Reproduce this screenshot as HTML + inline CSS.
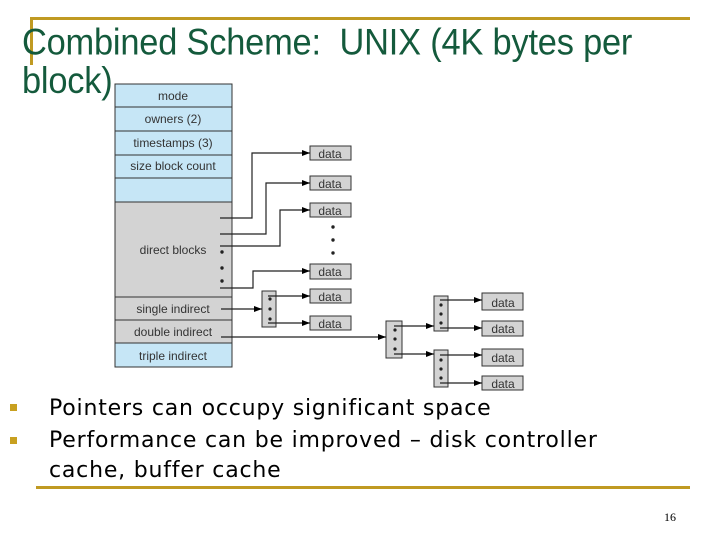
<!DOCTYPE html>
<html><head><meta charset="utf-8"><style>
body{margin:0;width:720px;height:540px;background:#fff;overflow:hidden;position:relative;font-family:"Liberation Sans",sans-serif}
.t{position:absolute;left:22px;color:#145a3c;font-size:34.4px;line-height:36px;top:23px;letter-spacing:-0.2px;transform:scaleY(1.08);transform-origin:0 0}
.b{position:absolute;left:49px;font-size:22px;line-height:31px;color:#000;font-family:"DejaVu Sans",sans-serif;letter-spacing:0.8px}
.sq{position:absolute;left:10px;width:7px;height:7px;background:#c8a020}
</style></head><body>
<div style="position:absolute;left:30px;top:17px;width:660px;height:3px;background:#c09a22"></div>
<div style="position:absolute;left:30px;top:17px;width:3px;height:48px;background:#c09a22"></div>
<div class="t">Combined Scheme:&nbsp; UNIX (4K bytes per<br>block)</div>
<svg style="position:absolute;left:0;top:0" width="720" height="540" font-family="Liberation Sans, sans-serif" font-size="12">
<defs><marker id="a" markerWidth="8" markerHeight="6" refX="8" refY="3" orient="auto" markerUnits="userSpaceOnUse"><path d="M0,0L8,3L0,6z" fill="#000"/></marker></defs>
<g stroke="#333" stroke-width="1">
<rect x="115" y="84" width="117" height="118" fill="#c6e6f6"/>
<rect x="115" y="202" width="117" height="141" fill="#d3d3d3"/>
<rect x="115" y="343" width="117" height="24" fill="#c6e6f6"/>
<line x1="115" y1="107" x2="232" y2="107"/><line x1="115" y1="131" x2="232" y2="131"/>
<line x1="115" y1="155" x2="232" y2="155"/><line x1="115" y1="178" x2="232" y2="178"/>
<line x1="115" y1="297" x2="232" y2="297"/><line x1="115" y1="320" x2="232" y2="320"/>
</g>
<g text-anchor="middle" fill="#333">
<text x="173" y="100">mode</text><text x="173" y="123">owners (2)</text>
<text x="173" y="147">timestamps (3)</text><text x="173" y="170">size block count</text>
<text x="173" y="254">direct blocks</text><text x="173" y="313">single indirect</text>
<text x="173" y="336">double indirect</text><text x="173" y="360">triple indirect</text>
</g>
<g fill="#d3d3d3" stroke="#333">
<rect x="310" y="146" width="41" height="14"/><rect x="310" y="176" width="41" height="14"/>
<rect x="310" y="203" width="41" height="14"/><rect x="310" y="264" width="41" height="15"/>
<rect x="310" y="289" width="41" height="14"/><rect x="310" y="316" width="41" height="14"/>
<rect x="482" y="293" width="41" height="17"/><rect x="482" y="321" width="41" height="15"/>
<rect x="482" y="349" width="41" height="17"/><rect x="482" y="376" width="41" height="14"/>
<rect x="262" y="291" width="14" height="36"/><rect x="386" y="321" width="16" height="37"/>
<rect x="434" y="296" width="14" height="35"/><rect x="434" y="350" width="14" height="37"/>
</g>
<g font-size="12" text-anchor="middle" fill="#333">
<text x="330" y="158">data</text><text x="330" y="188">data</text><text x="330" y="215">data</text>
<text x="330" y="276">data</text><text x="330" y="301">data</text><text x="330" y="328">data</text>
<text x="503" y="307">data</text><text x="503" y="333">data</text><text x="503" y="362">data</text><text x="503" y="388">data</text>
</g>
<g fill="none" stroke="#222" stroke-width="1.2" marker-end="url(#a)">
<path d="M220,218H252V153H310"/><path d="M220,234H266V183H310"/>
<path d="M220,246H280V210H310"/><path d="M220,288H253V271H310"/>
<path d="M221,309H262"/><path d="M268,296H310"/><path d="M268,323H310"/>
<path d="M221,337H386"/><path d="M394,326H434"/><path d="M394,354H434"/>
<path d="M440,300H482"/><path d="M440,328H482"/><path d="M440,355H482"/><path d="M440,383H482"/>
</g>
<g fill="#222">
<circle cx="333" cy="227" r="1.7"/><circle cx="333" cy="240" r="1.7"/><circle cx="333" cy="253" r="1.7"/>
<circle cx="222" cy="252" r="1.7"/><circle cx="222" cy="268" r="1.7"/><circle cx="222" cy="281" r="1.7"/>
<circle cx="270" cy="299" r="1.6"/><circle cx="270" cy="309" r="1.6"/><circle cx="270" cy="319" r="1.6"/>
<circle cx="395" cy="330" r="1.6"/><circle cx="395" cy="339" r="1.6"/><circle cx="395" cy="349" r="1.6"/>
<circle cx="441" cy="305" r="1.6"/><circle cx="441" cy="314" r="1.6"/><circle cx="441" cy="323" r="1.6"/>
<circle cx="441" cy="360" r="1.6"/><circle cx="441" cy="369" r="1.6"/><circle cx="441" cy="378" r="1.6"/>
</g>
<text x="664" y="521" font-family="Liberation Serif, serif" font-size="12">16</text>
</svg>
<div class="sq" style="top:404px"></div><div class="sq" style="top:437px"></div>
<div class="b" style="top:393px">Pointers can occupy significant space</div>
<div class="b" style="top:426px;line-height:30px">Performance can be improved – disk controller<br>cache, buffer cache</div>
<div style="position:absolute;left:36px;top:486px;width:654px;height:3px;background:#c09a22"></div>
</body></html>
